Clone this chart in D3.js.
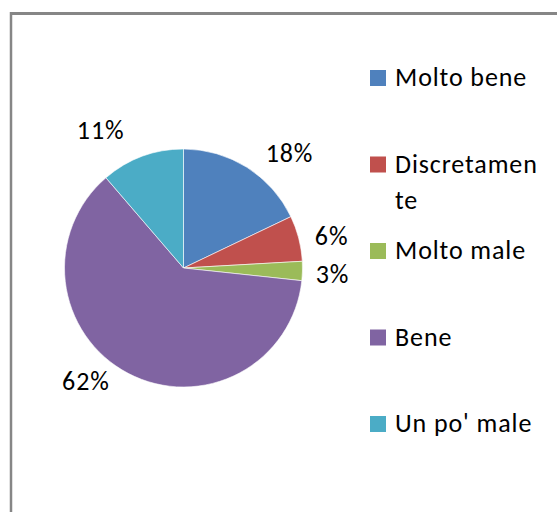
<!DOCTYPE html>
<html>
<head>
<meta charset="utf-8">
<script src="https://cdn.jsdelivr.net/npm/d3@7/dist/d3.min.js"></script>
<style>
  body { margin: 0; background: #fff; }
  svg { display: block; }
  text { font-family: Carlito, Calibri, Lato, sans-serif; fill: #000; letter-spacing: 0.9px; }
</style>
</head>
<body>
<div id="chart"></div>
<script>
// risposte (percentuali)
const categories = ["Molto bene", "Discretamente", "Molto male", "Bene", "Un po' male"];
const values = [17.9, 6.2, 2.6, 62.0, 11.3];
const colors = ["#4F81BD", "#C0504D", "#9BBB59", "#8064A2", "#4BACC6"];

const width = 557, height = 512;
const cx = 183.5, cy = 268, radius = 119;
const fontSize = 26;

const svg = d3.select("#chart").append("svg")
    .attr("width", width)
    .attr("height", height);

// chart frame (runs off the right and bottom)
svg.append("line")
  .attr("x1", 11).attr("y1", 12).attr("x2", 11).attr("y2", height)
  .style("stroke", "#868686").style("stroke-width", 2.5);
svg.append("line")
  .attr("x1", 10).attr("y1", 13.5).attr("x2", width).attr("y2", 13.5)
  .style("stroke", "#868686").style("stroke-width", 3);

const total = d3.sum(values);
const pie = d3.pie().sort(null).value((d) => d.value);
const arcs = pie(categories.map((c, i) => ({name: c, value: values[i], color: colors[i]})));
const arc = d3.arc().innerRadius(0).outerRadius(radius);

const g = svg.append("g").attr("transform", "translate(" + cx + "," + cy + ")");

g.selectAll(".slice")
    .data(arcs)
  .enter()
    .append("path")
    .attr("class", "slice")
    .attr("d", arc)
    .style("fill", (d) => d.data.color)
    .style("stroke", "#fff")
    .style("stroke-width", 0.6);

// percentage labels, outside end (left side sits a bit higher, like Excel's best fit)
const fmt = (v) => Math.round(v / total * 100) + "%";
const labels = g.selectAll(".pct")
    .data(arcs)
  .enter()
    .append("text")
    .attr("class", "pct")
    .style("font-size", fontSize + "px")
    .attr("text-anchor", "middle")
    .text((d) => fmt(d.value));

labels.each(function(d) {
  const a = (d.startAngle + d.endAngle) / 2;
  const w = this.getComputedTextLength();
  const s = Math.sin(a), c = Math.cos(a);
  const x = (radius + 13) * s + Math.sign(s) * (w / 2 + 14 * Math.abs(c));
  const y = -(radius + 19) * c + (s > 0 ? 2 : -9);
  d3.select(this).attr("x", x).attr("y", y + fontSize * 0.35);
});

// legend
const legendY = d3.scalePoint().domain(categories).range([78, 424]);
const legend = svg.selectAll(".legend")
    .data(categories)
  .enter()
    .append("g")
    .attr("class", "legend")
    .attr("transform", (d) => "translate(370," + legendY(d) + ")");

legend.append("rect")
  .attr("x", 0).attr("y", -8)
  .attr("width", 16).attr("height", 16)
  .style("fill", (d, i) => colors[i]);

legend.append("text")
  .attr("y", 8)
  .style("font-size", fontSize + "px")
  .each(function(d) {
    const lines = d.length > 11 ? [d.slice(0, 11), d.slice(11)] : [d];
    d3.select(this).selectAll("tspan")
        .data(lines)
      .enter()
        .append("tspan")
        .attr("x", 25)
        .attr("dy", (l, j) => j ? 36 : 0)
        .text((l) => l);
  });
</script>
</body>
</html>
